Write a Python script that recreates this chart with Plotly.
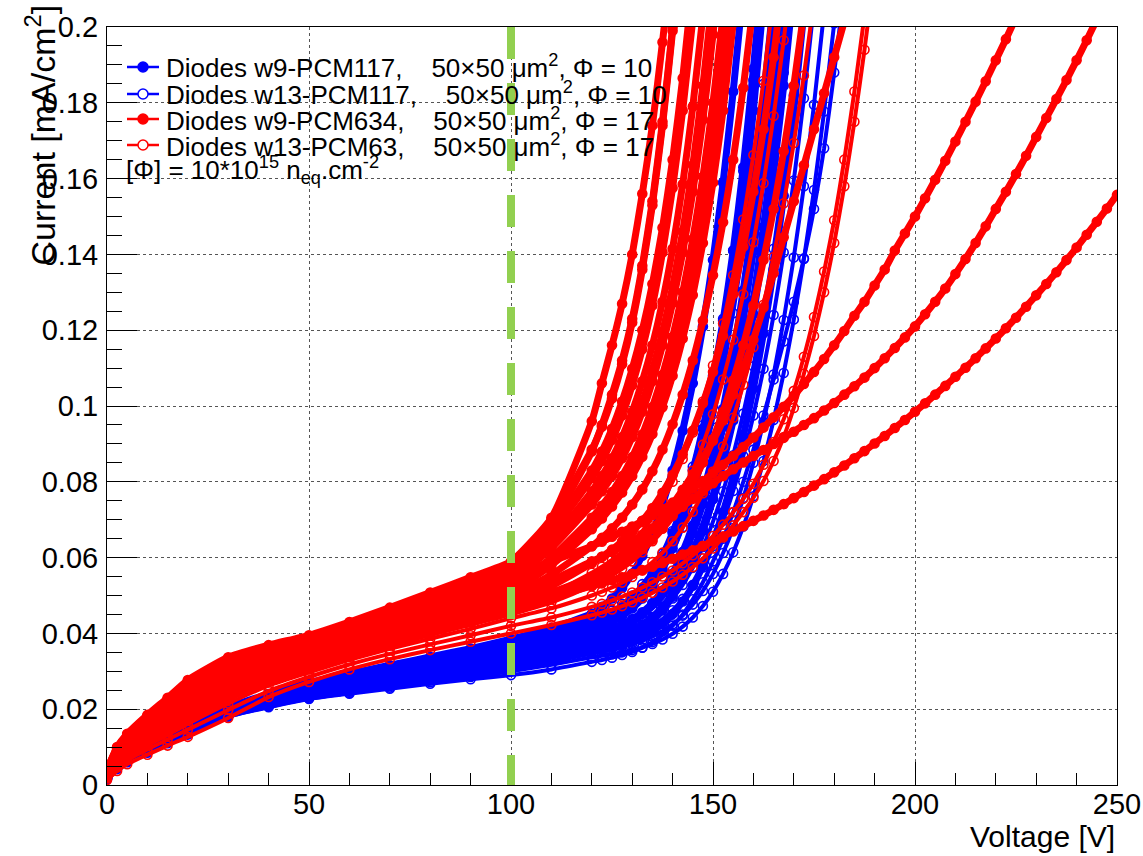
import plotly.graph_objects as go

# ---------------- data ----------------
V_LO = [0, 2.5, 5, 10, 15, 20, 30, 40, 50, 60, 70, 80, 90, 100, 110, 120]
V_HI = [122.5, 125, 127.5, 130, 132.5, 135, 137.5, 140, 142.5, 145,
        147.5, 150, 152.5, 155, 157.5, 160, 162.5, 165, 167.5, 170,
        172.5, 175, 177.5, 180, 182.5, 185, 187.5, 190, 192.5, 195,
        197.5, 200, 202.5, 205, 207.5, 210, 212.5, 215, 217.5, 220,
        222.5, 225, 227.5, 230, 232.5, 235, 237.5, 240, 242.5, 245,
        247.5, 250]
VOLTAGES = V_LO + V_HI

# Diodes w9-PCM117 (blue, full markers), current in mA/cm2
BLUE_W9 = [
    [.0028, .0062, .0082, .0110, .0135, .0158, .0205, .0240, .0270, .0294, .0316, .0338, .0360, .0385, .0414, .0452,
     .0470, .0492, .0520, .0558, .0605, .0665, .0740, .0830, .0935, .1060, .1210, .1385, .1590, .1830, .2100],
    [.0026, .0060, .0080, .0107, .0132, .0155, .0201, .0235, .0263, .0285, .0305, .0326, .0348, .0372, .0397, .0430,
     .0440, .0452, .0468, .0490, .0518, .0555, .0605, .0665, .0740, .0830, .0940, .1070, .1225, .1410, .1630, .1890, .2180],
    [.0024, .0057, .0077, .0103, .0128, .0151, .0197, .0229, .0256, .0276, .0295, .0316, .0337, .0360, .0383, .0411,
     .0420, .0431, .0446, .0466, .0492, .0526, .0570, .0625, .0695, .0780, .0880, .1000, .1145, .1320, .1530, .1780, .2070],
    [.0023, .0055, .0075, .0101, .0126, .0149, .0195, .0226, .0251, .0270, .0288, .0308, .0328, .0350, .0372, .0398,
     .0405, .0413, .0424, .0438, .0456, .0480, .0512, .0552, .0602, .0665, .0742, .0835, .0945, .1075, .1230, .1410, .1620, .1860, .2130],
    [.0021, .0053, .0072, .0098, .0122, .0145, .0191, .0221, .0245, .0263, .0281, .0300, .0319, .0340, .0361, .0385,
     .0393, .0402, .0414, .0430, .0451, .0478, .0513, .0558, .0615, .0685, .0770, .0872, .0992, .1135, .1305, .1505, .1740, .2010],
    [.0020, .0051, .0070, .0096, .0120, .0143, .0188, .0217, .0240, .0257, .0273, .0291, .0310, .0330, .0350, .0374,
     .0380, .0387, .0396, .0408, .0423, .0443, .0470, .0505, .0549, .0604, .0672, .0754, .0850, .0962, .1092, .1242, .1415, .1615, .1845, .2110],
    [.0018, .0049, .0068, .0093, .0117, .0140, .0186, .0213, .0235, .0251, .0267, .0283, .0301, .0320, .0339, .0362,
     .0368, .0375, .0384, .0396, .0412, .0433, .0461, .0497, .0543, .0600, .0670, .0755, .0856, .0975, .1115, .1280, .1472, .1695, .1955, .2250],
    [.0017, .0047, .0066, .0091, .0115, .0138, .0184, .0210, .0232, .0247, .0262, .0277, .0293, .0310, .0329, .0351,
     .0356, .0362, .0369, .0378, .0390, .0405, .0425, .0451, .0484, .0526, .0578, .0642, .0720, .0812, .0920, .1046, .1192, .1360, .1555, .1780, .2040],
]

# Diodes w13-PCM117 (blue, open markers)
BLUE_W13 = [
    [.0027, .0061, .0081, .0109, .0134, .0157, .0203, .0237, .0266, .0289, .0310, .0332, .0354, .0378, .0405, .0440,
     .0450, .0460, .0478, .0500, .0530, .0565, .0610, .0670, .0750, .0840, .0950, .1080, .1230, .1410, .1620, .1860, .2120],
    [.0025, .0058, .0078, .0105, .0130, .0153, .0199, .0232, .0259, .0280, .0299, .0320, .0342, .0365, .0389, .0419,
     .0428, .0438, .0452, .0470, .0494, .0525, .0565, .0615, .0680, .0760, .0855, .0965, .1095, .1245, .1420, .1620, .1850, .2110],
    [.0022, .0054, .0074, .0100, .0124, .0147, .0193, .0223, .0248, .0267, .0285, .0304, .0324, .0345, .0366, .0391,
     .0398, .0406, .0416, .0429, .0445, .0466, .0493, .0528, .0572, .0627, .0695, .0778, .0876, .0990, .1122, .1275, .1450, .1650, .1880, .2140],
    [.0020, .0052, .0071, .0097, .0121, .0144, .0190, .0219, .0242, .0260, .0277, .0295, .0314, .0335, .0356, .0380,
     .0386, .0393, .0401, .0411, .0424, .0441, .0463, .0492, .0528, .0573, .0628, .0695, .0775, .0870, .0980, .1105, .1250, .1415, .1605, .1820, .2065],
    [.0019, .0050, .0069, .0094, .0118, .0141, .0187, .0215, .0237, .0254, .0270, .0287, .0306, .0325, .0345, .0368,
     .0373, .0379, .0386, .0395, .0406, .0420, .0438, .0461, .0491, .0528, .0574, .0630, .0697, .0776, .0868, .0975, .1098, .1240, .1405, .1595, .1812, .2060],
    [.0017, .0046, .0065, .0090, .0114, .0137, .0183, .0209, .0231, .0246, .0261, .0276, .0292, .0310, .0328, .0350,
     .0354, .0359, .0365, .0372, .0381, .0392, .0406, .0424, .0447, .0476, .0512, .0557, .0612, .0678, .0757, .0850, .0958, .1083, .1227, .1392, .1580, .1795, .2040],
    [.0016, .0044, .0062, .0088, .0112, .0135, .0182, .0207, .0229, .0243, .0257, .0271, .0285, .0300, .0317, .0337,
     .0341, .0345, .0350, .0356, .0363, .0372, .0384, .0399, .0418, .0442, .0472, .0510, .0557, .0614, .0682, .0762, .0855, .0963, .1087, .1228, .1388, .1570, .1777, .2010],
    [.0015, .0042, .0060, .0085, .0110, .0133, .0180, .0205, .0227, .0241, .0254, .0267, .0279, .0290, .0305, .0325,
     .0330, .0336, .0343, .0351, .0362, .0377, .0396, .0420, .0450, .0490, .0535, .0590, .0650, .0720, .0800, .0885, .0975, .1070, .1170, .1275, .1390, .1520, .1680, .1880, .2100],
]

# Diodes w9-PCM634 (red, full markers)
RED_W9 = [
    [.0040, .0100, .0135, .0185, .0230, .0277, .0337, .0369, .0395, .0430, .0468, .0508, .0548, .0590, .0705, .0960,
     .1060, .1160, .1270, .1400, .1560, .1740, .1960, .2200],
    [.0040, .0099, .0133, .0183, .0227, .0274, .0334, .0366, .0392, .0427, .0465, .0504, .0544, .0585, .0700, .0885,
     .0945, .1020, .1110, .1220, .1360, .1530, .1740, .1990, .2270],
    [.0039, .0097, .0131, .0180, .0223, .0270, .0330, .0362, .0389, .0423, .0461, .0500, .0539, .0580, .0690, .0880,
     .0950, .1030, .1120, .1230, .1370, .1540, .1750, .2000, .2280],
    [.0038, .0095, .0128, .0176, .0219, .0265, .0325, .0357, .0384, .0418, .0455, .0494, .0532, .0570, .0675, .0830,
     .0880, .0940, .1012, .1098, .1200, .1322, .1470, .1650, .1865, .2120],
    [.0037, .0092, .0125, .0172, .0214, .0259, .0319, .0352, .0379, .0414, .0450, .0488, .0526, .0565, .0665, .0810,
     .0855, .0910, .0975, .1055, .1150, .1265, .1405, .1575, .1780, .2020],
    [.0035, .0089, .0121, .0167, .0208, .0252, .0311, .0345, .0373, .0408, .0443, .0480, .0517, .0555, .0645, .0775,
     .0815, .0862, .0918, .0985, .1065, .1160, .1275, .1415, .1585, .1790, .2030],
    [.0035, .0087, .0119, .0164, .0204, .0248, .0306, .0341, .0369, .0404, .0439, .0476, .0512, .0550, .0590, .0630,
     .0642, .0655, .0668, .0682, .0697, .0712, .0728, .0745, .0763, .0782, .0802, .0823, .0845, .0868, .0892, .0917,
     .0943, .0970, .0998, .1027, .1058, .1090, .1124, .1160, .1198, .1238, .1275, .1318, .1360, .1410, .1455, .1500,
     .1548, .1597, .1647, .1698, .1750, .1803, .1857, .1912, .1968, .2025],
    [.0034, .0086, .0117, .0161, .0201, .0244, .0302, .0338, .0366, .0401, .0436, .0472, .0508, .0545, .0630, .0750,
     .0788, .0830, .0880, .0940, .1010, .1095, .1195, .1315, .1460, .1635, .1845, .2090],
    [.0033, .0084, .0115, .0158, .0198, .0240, .0297, .0334, .0363, .0398, .0432, .0468, .0504, .0540, .0625, .0740,
     .0775, .0815, .0862, .0918, .0985, .1065, .1160, .1272, .1405, .1565, .1755, .1980, .2240],
    [.0031, .0080, .0109, .0150, .0188, .0228, .0285, .0323, .0353, .0388, .0422, .0456, .0490, .0525, .0600, .0705,
     .0737, .0773, .0815, .0865, .0925, .0997, .1082, .1182, .1300, .1440, .1605, .1800, .2030],
    [.0031, .0078, .0106, .0146, .0183, .0223, .0280, .0318, .0348, .0383, .0417, .0450, .0484, .0520, .0590, .0690,
     .0720, .0754, .0793, .0840, .0895, .0961, .1040, .1132, .1240, .1366, .1515, .1690, .1895, .2135],
    [.0030, .0075, .0103, .0142, .0178, .0217, .0273, .0312, .0343, .0377, .0411, .0444, .0477, .0510, .0580, .0675,
     .0703, .0735, .0772, .0815, .0866, .0926, .0997, .1080, .1178, .1293, .1430, .1590, .1780, .2010],
    [.0029, .0072, .0099, .0137, .0172, .0210, .0265, .0306, .0337, .0371, .0404, .0436, .0468, .0500, .0555, .0630,
     .0652, .0677, .0706, .0740, .0780, .0828, .0885, .0952, .1030, .1120, .1225, .1345, .1485, .1650, .1840, .2060],
    [.0028, .0070, .0097, .0134, .0169, .0205, .0260, .0302, .0334, .0368, .0400, .0432, .0463, .0495, .0540, .0590,
     .0602, .0615, .0629, .0644, .0660, .0677, .0695, .0714, .0734, .0755, .0776, .0796, .0815, .0833, .0851, .0868,
     .0884, .0900, .0916, .0932, .0950, .0968, .0988, .1008, .1030, .1052, .1075, .1100, .1126, .1153, .1181, .1210,
     .1242, .1275, .1310, .1348, .1388, .1430, .1474, .1520, .1565, .1612, .1660, .1710, .1760, .1810, .1860, .1912,
     .1965, .2020],
    [.0026, .0065, .0090, .0126, .0158, .0193, .0247, .0291, .0323, .0357, .0389, .0420, .0450, .0480, .0525, .0585,
     .0602, .0621, .0643, .0668, .0697, .0731, .0771, .0818, .0872, .0935, .1007, .1090, .1185, .1295, .1420, .1565,
     .1730, .1920, .2140],
    [.0025, .0063, .0087, .0122, .0153, .0187, .0241, .0286, .0319, .0352, .0383, .0413, .0443, .0472, .0508, .0550,
     .0565, .0582, .0601, .0623, .0648, .0676, .0707, .0741, .0779, .0820, .0863, .0908, .0962, .1030, .1100, .1175,
     .1260, .1350, .1445, .1540, .1635, .1730, .1825, .1920, .2015],
    [.0024, .0060, .0083, .0117, .0147, .0179, .0233, .0279, .0312, .0345, .0375, .0404, .0432, .0460, .0495, .0525,
     .0532, .0540, .0548, .0557, .0566, .0576, .0586, .0597, .0608, .0619, .0631, .0643, .0656, .0669, .0683, .0697,
     .0711, .0726, .0741, .0757, .0773, .0790, .0807, .0825, .0843, .0862, .0881, .0901, .0921, .0942, .0963, .0985,
     .1007, .1030, .1053, .1077, .1101, .1126, .1152, .1178, .1205, .1233, .1262, .1292, .1322, .1353, .1385, .1418,
     .1452, .1486, .1521, .1557],
    [.0023, .0058, .0081, .0114, .0144, .0175, .0229, .0275, .0309, .0342, .0372, .0400, .0428, .0455, .0490, .0540,
     .0553, .0567, .0583, .0601, .0622, .0647, .0676, .0710, .0750, .0797, .0851, .0913, .0985, .1067, .1160, .1265,
     .1385, .1520, .1672, .1845, .2040],
]

# Diodes w13-PCM63 (red, open markers)
RED_W13 = [
    [.0024, .0061, .0085, .0119, .0150, .0183, .0237, .0282, .0315, .0348, .0379, .0408, .0437, .0465, .0505, .0560,
     .0576, .0594, .0615, .0640, .0670, .0706, .0749, .0800, .0860, .0930, .1012, .1107, .1218, .1345, .1492, .1662,
     .1858, .2085],
    [.0022, .0056, .0079, .0111, .0140, .0171, .0225, .0271, .0305, .0338, .0368, .0396, .0423, .0450, .0482, .0525,
     .0538, .0553, .0570, .0590, .0614, .0643, .0678, .0720, .0770, .0829, .0898, .0978, .1070, .1175, .1295, .1432,
     .1588, .1765, .1965, .2190],
    [.0020, .0052, .0073, .0104, .0132, .0161, .0215, .0262, .0297, .0330, .0359, .0386, .0412, .0440, .0466, .0500,
     .0510, .0521, .0534, .0549, .0567, .0588, .0613, .0643, .0679, .0721, .0770, .0827, .0893, .0969, .1056, .1155,
     .1267, .1393, .1535, .1694, .1872, .2070],
    [.0018, .0046, .0066, .0094, .0120, .0146, .0198, .0248, .0285, .0318, .0346, .0371, .0395, .0420, .0442, .0470,
     .0478, .0487, .0497, .0508, .0521, .0535, .0550, .0566, .0585, .0606, .0630, .0657, .0687, .0720, .0755, .0795,
     .0845, .0905, .0965, .1040, .1130, .1235, .1355, .1490, .1650, .1830, .2030],
    [.0013, .0037, .0055, .0080, .0104, .0127, .0177, .0232, .0272, .0305, .0332, .0356, .0378, .0400, .0422, .0448,
     .0455, .0463, .0472, .0482, .0494, .0507, .0521, .0537, .0555, .0575, .0598, .0624, .0653, .0685, .0720, .0758,
     .0802, .0855, .0918, .0995, .1085, .1185, .1300, .1430, .1580, .1750, .1940, .2150],
]

SERIES_NAMES = [
    "Diodes w9-PCM117,\u00a0\u00a0\u00a0 50\u00d750 \u03bcm<sup>2</sup>, \u03a6 = 10",
    "Diodes w13-PCM117,\u00a0\u00a0\u00a0 50\u00d750 \u03bcm<sup>2</sup>, \u03a6 = 10",
    "Diodes w9-PCM634,\u00a0\u00a0\u00a0 50\u00d750 \u03bcm<sup>2</sup>, \u03a6 = 17",
    "Diodes w13-PCM63,\u00a0\u00a0\u00a0 50\u00d750 \u03bcm<sup>2</sup>, \u03a6 = 17",
]
FLUENCE_NOTE = "[\u03a6] = 10*10<sup>15</sup> n<sub>eq</sub>.cm<sup>-2</sup>"
X_TICKS = [0, 50, 100, 150, 200, 250]
Y_TICKS = [0, 0.02, 0.04, 0.06, 0.08, 0.1, 0.12, 0.14, 0.16, 0.18, 0.2]
MARKER_LINE_V = 100

BLUE = "#0000ff"
RED = "#ff0000"
GREEN = "#92d050"
FONT = "Liberation Sans, Arial, Helvetica, sans-serif"

# ---------------- figure ----------------
W, H = 1143, 856
L, R, T, B = 107, 26, 27, 71
PW, PH = W - L - R, H - T - B


def px_x(p):
    return (p - L) / PW


def px_y(p):
    return (H - B - p) / PH


fig = go.Figure()

series = [
    (BLUE_W9, BLUE, "circle", 7, SERIES_NAMES[0]),
    (BLUE_W13, BLUE, "circle-open", 4, SERIES_NAMES[1]),
    (RED_W9, RED, "circle", 7, SERIES_NAMES[2]),
    (RED_W13, RED, "circle-open", 4, SERIES_NAMES[3]),
]
for curves, color, sym, lw, name in series:
    for ys in curves:
        fig.add_trace(go.Scatter(
            x=VOLTAGES[:len(ys)], y=ys, mode="lines+markers", name=name,
            line=dict(color=color, width=lw, shape="spline", smoothing=0.5),
            marker=dict(symbol=sym, size=9, color=color,
                        line=dict(color=color, width=1.6)),
            showlegend=False, cliponaxis=True, hoverinfo="x+y"))

shapes = [dict(type="line", xref="x", yref="y", x0=MARKER_LINE_V, x1=MARKER_LINE_V,
               y0=0.2, y1=0, line=dict(color=GREEN, width=8, dash="32px,24px"),
               layer="above")]
annotations = []
rows_py = [67, 94, 119, 145]
for i, (name, (_, color, sym, _lw, _n)) in enumerate(zip(SERIES_NAMES, series)):
    py = rows_py[i]
    shapes.append(dict(type="line", xref="paper", yref="paper",
                       x0=px_x(127), x1=px_x(159), y0=px_y(py), y1=px_y(py),
                       line=dict(color=color, width=2.5), layer="above"))
    shapes.append(dict(type="circle", xref="paper", yref="paper",
                       xsizemode="pixel", ysizemode="pixel",
                       xanchor=px_x(143), yanchor=px_y(py),
                       x0=-5, x1=5, y0=-5, y1=5,
                       fillcolor=color if sym == "circle" else "white",
                       line=dict(color=color, width=1.5), layer="above"))
    annotations.append(dict(text=name, xref="paper", yref="paper",
                            x=px_x(164), y=px_y(py), xanchor="left", yanchor="middle",
                            showarrow=False, font=dict(family=FONT, size=26, color="black")))
annotations.append(dict(text=FLUENCE_NOTE, xref="paper", yref="paper",
                        x=px_x(124), y=px_y(170), xanchor="left", yanchor="middle",
                        showarrow=False, font=dict(family=FONT, size=26, color="black")))
annotations.append(dict(text="Voltage [V]", xref="paper", yref="paper",
                        x=1.0, y=px_y(836), xanchor="right", yanchor="middle",
                        showarrow=False, font=dict(family=FONT, size=30, color="black")))
annotations.append(dict(text="Current [mA/cm<sup>2</sup>]", xref="paper", yref="paper",
                        x=px_x(40), y=px_y(3), xanchor="center", yanchor="top",
                        textangle=-90, showarrow=False,
                        font=dict(family=FONT, size=34, color="black")))

axis_common = dict(showline=True, linecolor="black", linewidth=1, mirror=True,
                   ticks="inside", tickcolor="black", tickwidth=1, automargin=False,
                   showgrid=True, gridcolor="#555555", griddash="dot", gridwidth=1,
                   zeroline=False, tickfont=dict(family=FONT, size=29, color="black"))

fig.update_layout(
    width=W, height=H,
    margin=dict(l=L, r=R, t=T, b=B, pad=0, autoexpand=False),
    paper_bgcolor="white", plot_bgcolor="white",
    showlegend=False,
    shapes=shapes, annotations=annotations,
    xaxis=dict(range=[0, 250], tickvals=X_TICKS, ticklen=23, ticklabelstandoff=-7,
               minor=dict(dtick=10, ticks="inside", ticklen=12, tickcolor="black", showgrid=False),
               **axis_common),
    yaxis=dict(range=[0, 0.2], tickvals=Y_TICKS, ticklen=30, ticklabelstandoff=2,
               minor=dict(dtick=0.005, ticks="inside", ticklen=15, tickcolor="black", showgrid=False),
               **axis_common),
)

# the page's default body margin would shift the figure; remove it
fig.write_html(
    "out.html",
    config={"displayModeBar": False},
    post_script="document.documentElement.style.margin='0';"
                "document.body.style.margin='0';document.body.style.padding='0';"
                "document.body.style.overflow='hidden';",
)
